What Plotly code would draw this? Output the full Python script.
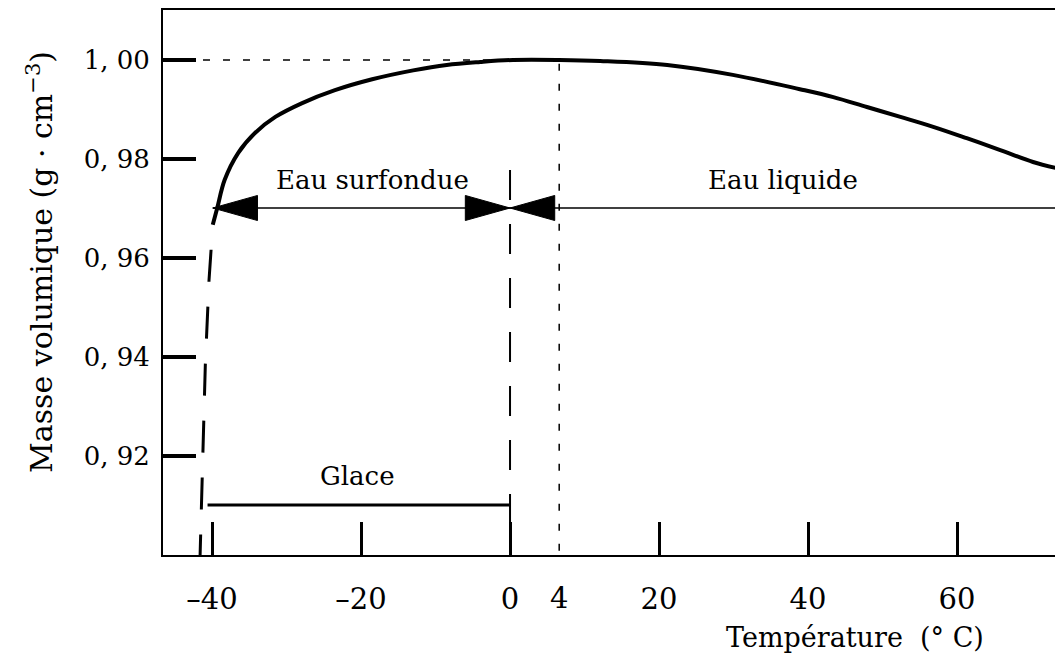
import plotly.graph_objects as go

# ---------------- data ----------------
liquid_T = [-39.9, -39.3, -38.3, -36.5, -34.2, -31.5, -27.9, -23.5, -18.5, -13.0,
            -8.5, -4.0, 0.4, 6.6, 12.1, 21.1, 29.9, 38.9, 43.4, 47.9, 52.4, 56.8,
            61.3, 65.8, 70.2, 73.2]
liquid_rho = [0.9667, 0.9701, 0.9758, 0.9812, 0.9853, 0.9885, 0.9913, 0.9939, 0.9961,
              0.9979, 0.9990, 0.9996, 1.0000, 1.0000, 0.9998, 0.9990, 0.9970, 0.9941,
              0.9925, 0.9905, 0.9885, 0.9865, 0.9842, 0.9818, 0.9794, 0.9782]

ice_T = [-39.9, -40.4, -40.9, -41.2, -41.6]
ice_rho = [0.9667, 0.9556, 0.9384, 0.9206, 0.9000]

glace_T = [-40.6, 0.0]
glace_rho = 0.9101

arrow_rho = 0.9701
surfondue_T = [-39.9, 0.0]
liquide_T = [0.0, 73.2]

fusion_T = 0.0
fusion_rho = [0.9778, 0.9000]

peak_T = 6.6
peak_rho = 1.0000

x_tickvals = [-40, -20, 0, 20, 40, 60]
x_ticktext = ["\u201340", "\u201320", "0", "20", "40", "60"]
peak_label = "4"
y_tickvals = [0.92, 0.94, 0.96, 0.98, 1.00]
y_ticktext = ["0, 92", "0, 94", "0, 96", "0, 98", "1, 00"]

X_RANGE = [-46.58, 73.15]
Y_RANGE = [0.9000, 1.0101]

FONT = "DejaVu Serif"
FS = 26
XFS = 29
BLACK = "black"

HEAD_LEN = 6.0       # arrowhead length (data units of x)
HEAD_HALF = 0.00253  # arrowhead half height (data units of y)

fig = go.Figure()

# liquid water curve
fig.add_trace(go.Scatter(x=liquid_T, y=liquid_rho, mode="lines",
                         line=dict(color=BLACK, width=4, shape="spline", smoothing=1.0),
                         hoverinfo="skip", showlegend=False))
# ice (dashed)
fig.add_trace(go.Scatter(x=ice_T, y=ice_rho, mode="lines",
                         line=dict(color=BLACK, width=3, dash="0px,25px,32px,0px"),
                         hoverinfo="skip", showlegend=False))
# glace horizontal range
fig.add_trace(go.Scatter(x=glace_T, y=[glace_rho, glace_rho], mode="lines",
                         line=dict(color=BLACK, width=3),
                         hoverinfo="skip", showlegend=False))
# fusion (0 °C) dashed vertical
fig.add_trace(go.Scatter(x=[fusion_T, fusion_T], y=fusion_rho, mode="lines",
                         line=dict(color=BLACK, width=2, dash="30px,24px"),
                         hoverinfo="skip", showlegend=False))
# dotted lines to the density maximum
fig.add_trace(go.Scatter(x=[X_RANGE[0], peak_T, peak_T], y=[peak_rho, peak_rho, Y_RANGE[0]],
                         mode="lines", line=dict(color=BLACK, width=1.5, dash="7px,13px"),
                         hoverinfo="skip", showlegend=False))
# arrow shafts
fig.add_trace(go.Scatter(x=[surfondue_T[0], liquide_T[1]], y=[arrow_rho, arrow_rho],
                         mode="lines", line=dict(color=BLACK, width=1.5),
                         hoverinfo="skip", showlegend=False))


def head(tip, direction):
    base = tip - direction * HEAD_LEN
    return dict(x=[tip, base, base, tip],
                y=[arrow_rho, arrow_rho + HEAD_HALF, arrow_rho - HEAD_HALF, arrow_rho])


for tip, d in [(surfondue_T[0], -1), (surfondue_T[1], 1), (liquide_T[0], -1)]:
    h = head(tip, d)
    fig.add_trace(go.Scatter(x=h["x"], y=h["y"], mode="lines", fill="toself",
                             fillcolor=BLACK, line=dict(color=BLACK, width=1),
                             hoverinfo="skip", showlegend=False))

# invisible trace so the secondary x axis (label "4") is drawn
fig.add_trace(go.Scatter(x=[peak_T], y=[peak_rho], xaxis="x2", mode="markers",
                         marker=dict(opacity=0), hoverinfo="skip", showlegend=False))

# region labels
fig.add_annotation(x=-18.5, y=0.9758, text="Eau surfondue", showarrow=False,
                   font=dict(family=FONT, size=FS, color=BLACK))
fig.add_annotation(x=36.6, y=0.9758, text="Eau liquide", showarrow=False,
                   font=dict(family=FONT, size=FS, color=BLACK))
fig.add_annotation(x=-20.5, y=0.9160, text="Glace", showarrow=False,
                   font=dict(family=FONT, size=FS, color=BLACK))

# axis titles
fig.add_annotation(xref="paper", yref="paper", x=-0.138, y=0.5376,
                   xanchor="center", yanchor="middle",
                   text="Masse volumique (g \u00b7 cm<sup>\u22123</sup>)",
                   textangle=-90, showarrow=False,
                   font=dict(family=FONT, size=30, color=BLACK))
fig.add_annotation(xref="paper", yref="paper", x=0.776, y=-0.1505,
                   xanchor="center", yanchor="middle",
                   text="Température \u00a0(\u00b0 C)", showarrow=False,
                   font=dict(family=FONT, size=27, color=BLACK))

axis_common = dict(showgrid=False, zeroline=False, automargin=False)

# the page adds an 8 px offset on the left and top, so the figure is 8 px smaller
fig.update_layout(
    width=1055, height=653,
    margin=dict(l=155, r=8, t=2, b=106),
    paper_bgcolor="white", plot_bgcolor="white",
    font=dict(family=FONT, size=FS, color=BLACK),
    xaxis=dict(range=X_RANGE, tickvals=x_tickvals, ticktext=x_ticktext,
               ticks="inside", ticklen=33, tickwidth=3, tickcolor=BLACK,
               showline=True, linecolor=BLACK, linewidth=2, mirror=True,
               ticklabelstandoff=17,
               tickfont=dict(family=FONT, size=XFS, color=BLACK), **axis_common),
    xaxis2=dict(range=X_RANGE, overlaying="x", anchor="y", side="bottom",
                tickvals=[peak_T], ticktext=[peak_label], ticks="",
                showline=False, ticklabelstandoff=23,
                tickfont=dict(family=FONT, size=XFS, color=BLACK), **axis_common),
    yaxis=dict(range=Y_RANGE, tickvals=y_tickvals, ticktext=y_ticktext,
               ticks="inside", ticklen=33, tickwidth=3.5, tickcolor=BLACK,
               showline=True, linecolor=BLACK, linewidth=2, mirror=True,
               ticklabelstandoff=6,
               tickfont=dict(family=FONT, size=FS, color=BLACK), **axis_common),
)

fig.write_html("out.html")
